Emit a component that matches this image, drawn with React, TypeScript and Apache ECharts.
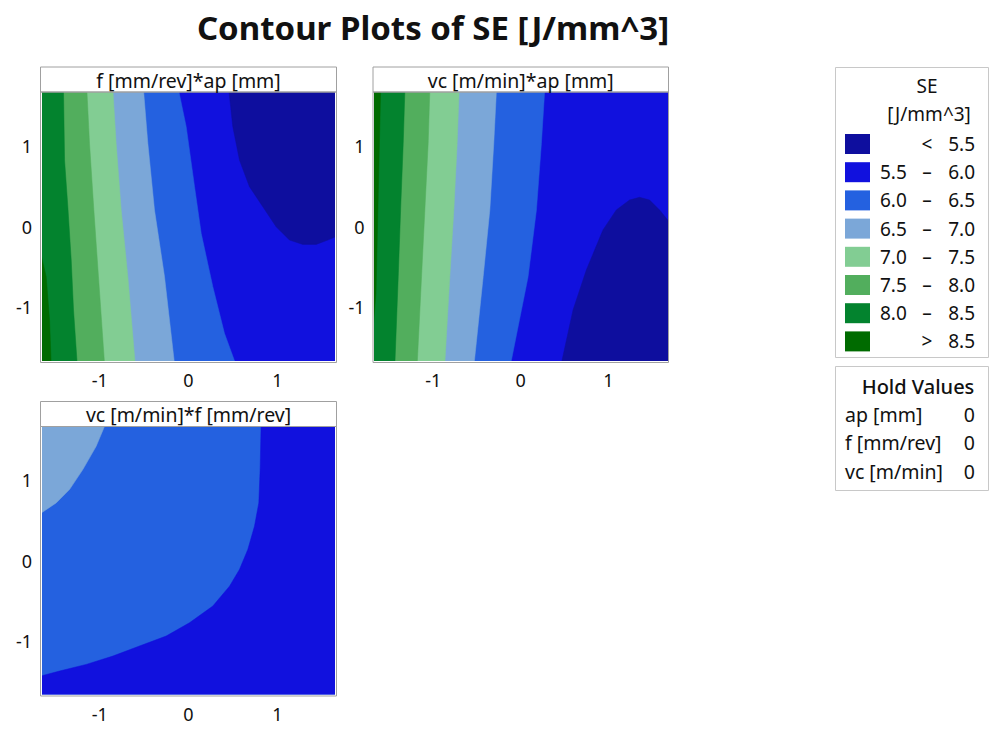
import React, { useEffect, useRef } from "react";
import * as echarts from "echarts";

const FONT = "'Noto Sans', 'Open Sans', sans-serif";

// ---- Legend / levels ----
const levelColors = ["#0e0e9e", "#1111de", "#2461e0", "#7ba7d8", "#82cd93", "#52ae5d", "#03832e", "#006b00"];
const legendLow = ["", "5.5", "6.0", "6.5", "7.0", "7.5", "8.0", ""];
const legendSign = ["<", "–", "–", "–", "–", "–", "–", ">"];
const legendHigh = ["5.5", "6.0", "6.5", "7.0", "7.5", "8.0", "8.5", "8.5"];

const chartTitle = "Contour Plots of SE [J/mm^3]";
const panelTitles = ["f [mm/rev]*ap [mm]", "vc [m/min]*ap [mm]", "vc [m/min]*f [mm/rev]"];
const tickValues = [-1, 0, 1];
const holdNames = ["ap [mm]", "f [mm/rev]", "vc [m/min]"];
const holdValues = ["0", "0", "0"];

// ---- Panel 1 contour lines (x, y) ----
const p1Line55 = [[0.454, 1.7], [0.499, 1.24], [0.574, 0.826], [0.687, 0.495], [0.837, 0.246], [0.987, -0.002], [1.137, -0.168], [1.288, -0.222], [1.438, -0.222], [1.569, -0.168], [1.7, -0.106]];
const p1Line60 = [[-0.113, 1.7], [-0.026, 1.24], [0.068, 0.495], [0.143, -0.085], [0.274, -0.747], [0.405, -1.326], [0.529, -1.7]];
const p1Line65 = [[-0.507, 1.7], [-0.458, 1.033], [-0.383, 0.205], [-0.27, -0.623], [-0.158, -1.7]];
const p1Line70 = [[-0.852, 1.7], [-0.815, 1.033], [-0.758, 0.205], [-0.683, -0.623], [-0.601, -1.7]];
const p1Line75 = [[-1.145, 1.7], [-1.115, 1.033], [-1.066, 0.205], [-1.014, -0.623], [-0.946, -1.7]];
const p1Line80 = [[-1.408, 1.7], [-1.396, 0.826], [-1.359, 0.246], [-1.321, -0.416], [-1.295, -1.037], [-1.254, -1.7]];
const p1Line85 = [[-1.7, -0.168], [-1.603, -0.623], [-1.565, -1.161], [-1.547, -1.7]];

// ---- Panel 2 contour lines ----
const p2Line55 = [[0.464, -1.7], [0.597, -1.037], [0.749, -0.54], [0.939, -0.043], [1.091, 0.205], [1.243, 0.329], [1.357, 0.362], [1.471, 0.329], [1.585, 0.205], [1.7, 0.05]];
const p2Line60 = [[0.274, 1.7], [0.236, 1.033], [0.179, 0.205], [0.084, -0.623], [0.008, -1.037], [-0.114, -1.7]];
const p2Line65 = [[-0.277, 1.7], [-0.308, 1.033], [-0.353, 0.205], [-0.429, -0.623], [-0.532, -1.7]];
const p2Line70 = [[-0.703, 1.7], [-0.726, 1.033], [-0.764, 0.205], [-0.81, -0.623], [-0.867, -1.7]];
const p2Line75 = [[-1.038, 1.7], [-1.057, 1.033], [-1.095, 0.205], [-1.133, -0.623], [-1.182, -1.7]];
const p2Line80 = [[-1.323, 1.7], [-1.342, 1.033], [-1.372, 0.205], [-1.399, -0.623], [-1.437, -1.7]];
const p2Line85 = [[-1.6, 1.7], [-1.627, 0.41], [-1.653, -0.83], [-1.7, -1.45]];

// ---- Panel 3 contour lines ----
const p3Line70 = [[-0.935, 1.7], [-1.04, 1.423], [-1.19, 1.133], [-1.34, 0.884], [-1.49, 0.718], [-1.7, 0.56]];
const p3Line60 = [[0.818, 1.7], [0.807, 1.133], [0.792, 0.718], [0.743, 0.427], [0.668, 0.137], [0.574, -0.112], [0.462, -0.32], [0.274, -0.568], [0.011, -0.776], [-0.252, -0.942], [-0.552, -1.066], [-0.852, -1.191], [-1.152, -1.295], [-1.453, -1.378], [-1.7, -1.45]];

const FAR = 5;
type Poly = { level: number; pts: number[][] };

const full = (level: number): Poly => ({ level, pts: [[-FAR, -FAR], [FAR, -FAR], [FAR, FAR], [-FAR, FAR]] });
const leftOf = (level: number, line: number[][]): Poly => ({
  level,
  pts: [...line, [-FAR, line[line.length - 1][1]], [-FAR, line[0][1]]],
});

const panel1: Poly[] = [
  full(1),
  { level: 0, pts: [...p1Line55, [FAR, FAR]] },
  leftOf(2, p1Line60),
  leftOf(3, p1Line65),
  leftOf(4, p1Line70),
  leftOf(5, p1Line75),
  leftOf(6, p1Line80),
  { level: 7, pts: [...p1Line85, [-FAR, -FAR]] },
];
const panel2: Poly[] = [
  full(1),
  { level: 0, pts: [...p2Line55, [FAR, -FAR]] },
  leftOf(2, p2Line60),
  leftOf(3, p2Line65),
  leftOf(4, p2Line70),
  leftOf(5, p2Line75),
  leftOf(6, p2Line80),
  { level: 7, pts: [...p2Line85, [-FAR, FAR]] },
];
const panel3: Poly[] = [
  full(2),
  { level: 3, pts: [...p3Line70, [-FAR, FAR]] },
  { level: 1, pts: [...p3Line60, [-FAR, -FAR], [FAR, -FAR], [FAR, FAR]] },
];

const panels = [
  { polys: panel1, grid: { left: 42, top: 92, width: 293, height: 269 }, xr: 1.65, yr: 1.67 },
  { polys: panel2, grid: { left: 374.5, top: 92, width: 292.5, height: 269 }, xr: 1.67, yr: 1.67 },
  { polys: panel3, grid: { left: 42, top: 426.5, width: 293, height: 268 }, xr: 1.65, yr: 1.67 },
];

export default function App() {
  const ref = useRef<HTMLDivElement>(null);
  useEffect(() => {
    document.body.style.margin = "0";
    const chart = echarts.init(ref.current!, undefined, { renderer: "svg" });

    const axisCommon = {
      axisLine: { show: false },
      splitLine: { show: false },
      axisTick: { show: true, length: 5, lineStyle: { color: "#999" }, customValues: tickValues },
      axisLabel: { customValues: tickValues, color: "#111", fontSize: 18, fontFamily: FONT, margin: 10 },
    };

    const graphics: any[] = [];
    panels.forEach((p, i) => {
      const g = p.grid;
      const fx = g.left - 1.5;
      const fw = g.width + 3;
      graphics.push({
        type: "rect", z: 100,
        shape: { x: fx, y: g.top - 25, width: fw, height: 25 },
        style: { fill: "#fff", stroke: "#a0a0a0", lineWidth: 1 },
      });
      graphics.push({
        type: "rect", z: 100,
        shape: { x: fx, y: g.top, width: fw, height: g.height + 1.5 },
        style: { fill: "none", stroke: "#a0a0a0", lineWidth: 1 },
      });
      graphics.push({
        type: "text", z: 101,
        x: fx + fw / 2, y: g.top - 12,
        style: { text: panelTitles[i], fontSize: 19.5, fontFamily: FONT, fill: "#111", align: "center", verticalAlign: "middle" },
      });
    });

    const txt = (x: number, y: number, text: string, size: number, align: string, weight = "normal") => ({
      type: "text", x, y,
      style: { text, fontSize: size, fontFamily: FONT, fontWeight: weight, fill: "#111", align, verticalAlign: "middle" },
    });

    // Legend box
    graphics.push({ type: "rect", shape: { x: 835.5, y: 67.5, width: 153, height: 290 }, style: { fill: "#fff", stroke: "#c8c8c8", lineWidth: 1 } });
    graphics.push(txt(927, 86, "SE", 19, "center"));
    graphics.push(txt(929, 114, "[J/mm^3]", 19, "center"));
    levelColors.forEach((c, i) => {
      const cy = 144 + i * 28.2;
      graphics.push({ type: "rect", shape: { x: 845, y: cy - 10, width: 25, height: 20 }, style: { fill: c } });
      if (legendLow[i]) graphics.push(txt(880, cy, legendLow[i], 19, "left"));
      graphics.push(txt(927, cy, legendSign[i], 19, "center"));
      graphics.push(txt(975, cy, legendHigh[i], 19, "right"));
    });

    // Hold values box
    graphics.push({ type: "rect", shape: { x: 835.5, y: 366.5, width: 153, height: 124 }, style: { fill: "#fff", stroke: "#c8c8c8", lineWidth: 1 } });
    graphics.push(txt(918, 386, "Hold Values", 20, "center", "500"));
    holdNames.forEach((n, i) => {
      const cy = 414 + i * 28.5;
      graphics.push(txt(845, cy, n, 19.5, "left"));
      graphics.push(txt(975, cy, holdValues[i], 19.5, "right"));
    });

    chart.setOption({
      animation: false,
      backgroundColor: "#fff",
      title: {
        text: chartTitle, left: 428, top: 6, textAlign: "center",
        textStyle: { fontFamily: FONT, fontSize: 33, fontWeight: "bold", color: "#111" },
      },
      grid: panels.map((p) => ({ ...p.grid, containLabel: false })),
      xAxis: panels.map((p, i) => ({ type: "value", gridIndex: i, min: -p.xr, max: p.xr, ...axisCommon })),
      yAxis: panels.map((p, i) => ({ type: "value", gridIndex: i, min: -p.yr, max: p.yr, ...axisCommon })),
      series: panels.map((p, i) => ({
        type: "custom",
        xAxisIndex: i,
        yAxisIndex: i,
        clip: true,
        silent: true,
        data: p.polys.map((poly) => [poly.pts[0][0], poly.pts[0][1]]),
        renderItem: (params: any, api: any) => {
          const poly = p.polys[params.dataIndex];
          return {
            type: "polygon",
            shape: { points: poly.pts.map((pt) => api.coord(pt)) },
            style: { fill: levelColors[poly.level], stroke: levelColors[poly.level], lineWidth: 0.5 },
          };
        },
      })),
      graphic: graphics,
    });
    return () => chart.dispose();
  }, []);
  return <div ref={ref} style={{ width: 990, height: 729 }} />;
}
